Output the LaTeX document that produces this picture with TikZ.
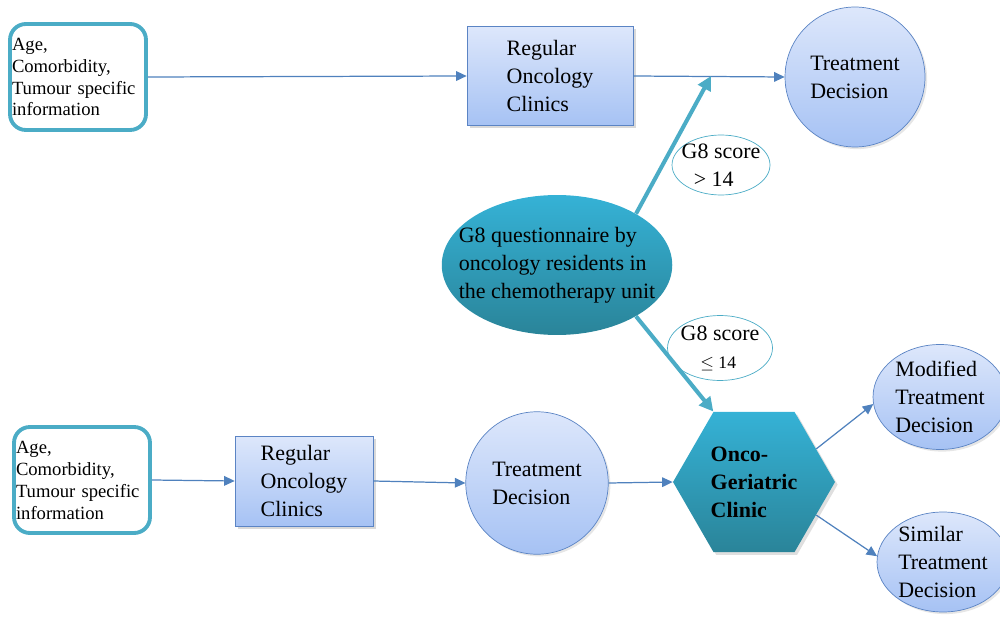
\documentclass[tikz,border=0pt]{standalone}
\usepackage{fontspec}
\setmainfont{Liberation Serif}
\usetikzlibrary{shapes.geometric,arrows.meta,shadows}
\definecolor{cliniclight}{HTML}{DDE7FB}
\definecolor{clinicdark}{HTML}{A6C2F4}
\definecolor{clinicline}{HTML}{5B84C4}
\definecolor{flowblue}{HTML}{4F81BD}
\definecolor{gteal}{HTML}{4BACC6}
\definecolor{gtealtop}{HTML}{35B2D6}
\definecolor{gtealbot}{HTML}{2A8499}
\hyphenpenalty=10000
\begin{document}
\begin{tikzpicture}[
		x=0.02cm,y=-0.02cm,
		every node/.append style={align=left,inner sep=1pt,font=\fontsize{12.5}{15.9}\selectfont},
		info/.style={draw=gteal,line width=2.2pt,rounded corners=9pt,fill=white,text width=2.64cm,minimum width=2.72cm,minimum height=2.12cm,font=\fontsize{10.6}{12.5}\selectfont},
		clinic/.style={rectangle,draw=clinicline,thin,top color=cliniclight,bottom color=clinicdark,drop shadow={opacity=0.3,shadow xshift=1.5pt,shadow yshift=-1.5pt}},
		outcome/.style={draw=clinicline,thin,top color=cliniclight,bottom color=clinicdark,drop shadow={opacity=0.2,shadow xshift=1.2pt,shadow yshift=-1.2pt}},
		quest/.style={ellipse,top color=gtealtop,bottom color=gtealbot,inner xsep=-9.5pt,inner ysep=2pt,minimum width=4.42cm,minimum height=2.8cm},
		score/.style={ellipse,draw=gteal,thin,fill=white,inner sep=-3pt},
		hexa/.style={regular polygon,regular polygon sides=6,minimum size=3.24cm,top color=gtealtop,bottom color=gtealbot,drop shadow={opacity=0.25,shadow xshift=1.5pt,shadow yshift=-1.5pt},font=\fontsize{12.5}{15.9}\selectfont\bfseries},
		flow/.style={draw=flowblue,line width=0.7pt,-{Triangle[length=6pt,width=5.5pt]}},
		g8flow/.style={draw=gteal,line width=2.3pt,-{Triangle[length=8pt,width=8pt]}}
	]
	\useasboundingbox (0,0) rectangle (1000,618);
	\clip (0,0) rectangle (1000,618);
	% upper pathway
	\node[info] (age1) at (78,77) {Age,\\Comorbidity,\\Tumour specific\\information};
	\node[clinic,minimum width=3.32cm,minimum height=1.98cm] (reg1) at (550,76) {Regular\\Oncology\\Clinics};
	\node[outcome,circle,minimum size=2.8cm] (td1) at (855,77) {Treatment\\Decision};
	\coordinate (merge) at (711,76);
	% screening
	\node[quest] (g8) at (557,265) {G8 questionnaire by\\oncology residents in\\the chemotherapy unit};
	\node[score,minimum width=1.96cm,minimum height=1.2cm] (high) at (721,165) {G8 score\\\hspace{0.55em}> 14};
	\node[score,minimum width=2.1cm,minimum height=1.3cm] (low) at (720,348) {G8 score\\\hspace{0.9em}{\fontsize{10}{12}\selectfont$\leq$ 14}};
	% lower pathway
	\node[info] (age2) at (82,480) {Age,\\Comorbidity,\\Tumour specific\\information};
	\node[clinic,minimum width=2.76cm,minimum height=1.8cm] (reg2) at (304,481) {Regular\\Oncology\\Clinics};
	\node[outcome,circle,minimum size=2.85cm] (td2) at (537,483) {Treatment\\Decision};
	\node[hexa] (onco) at (754,482) {Onco-\\Geriatric\\Clinic};
	\node[outcome,ellipse,inner xsep=1pt,inner ysep=-1pt,minimum width=2.68cm,minimum height=2.1cm] (mod) at (940,397) {Modified\\Treatment\\Decision};
	\node[outcome,ellipse,inner xsep=1pt,inner ysep=-1pt,minimum width=2.64cm,minimum height=2cm] (sim) at (943,562) {Similar\\Treatment\\Decision};
	% connectors
	\draw[flow] (age1.east) -- (reg1.west);
	\draw[flow] (reg1.east) -- (td1.west);
	\draw[g8flow] (g8.33) -- (merge);
	\draw[g8flow] (g8.-33) -- (onco.120);
	\draw[flow] (age2.east) -- (reg2.west);
	\draw[flow] (reg2.east) -- (td2.west);
	\draw[flow] (td2.east) -- (onco.west);
	\draw[flow] (onco.28) -- (mod.186);
	\draw[flow] (onco.-28) -- (sim.175);
\end{tikzpicture}
\end{document}
